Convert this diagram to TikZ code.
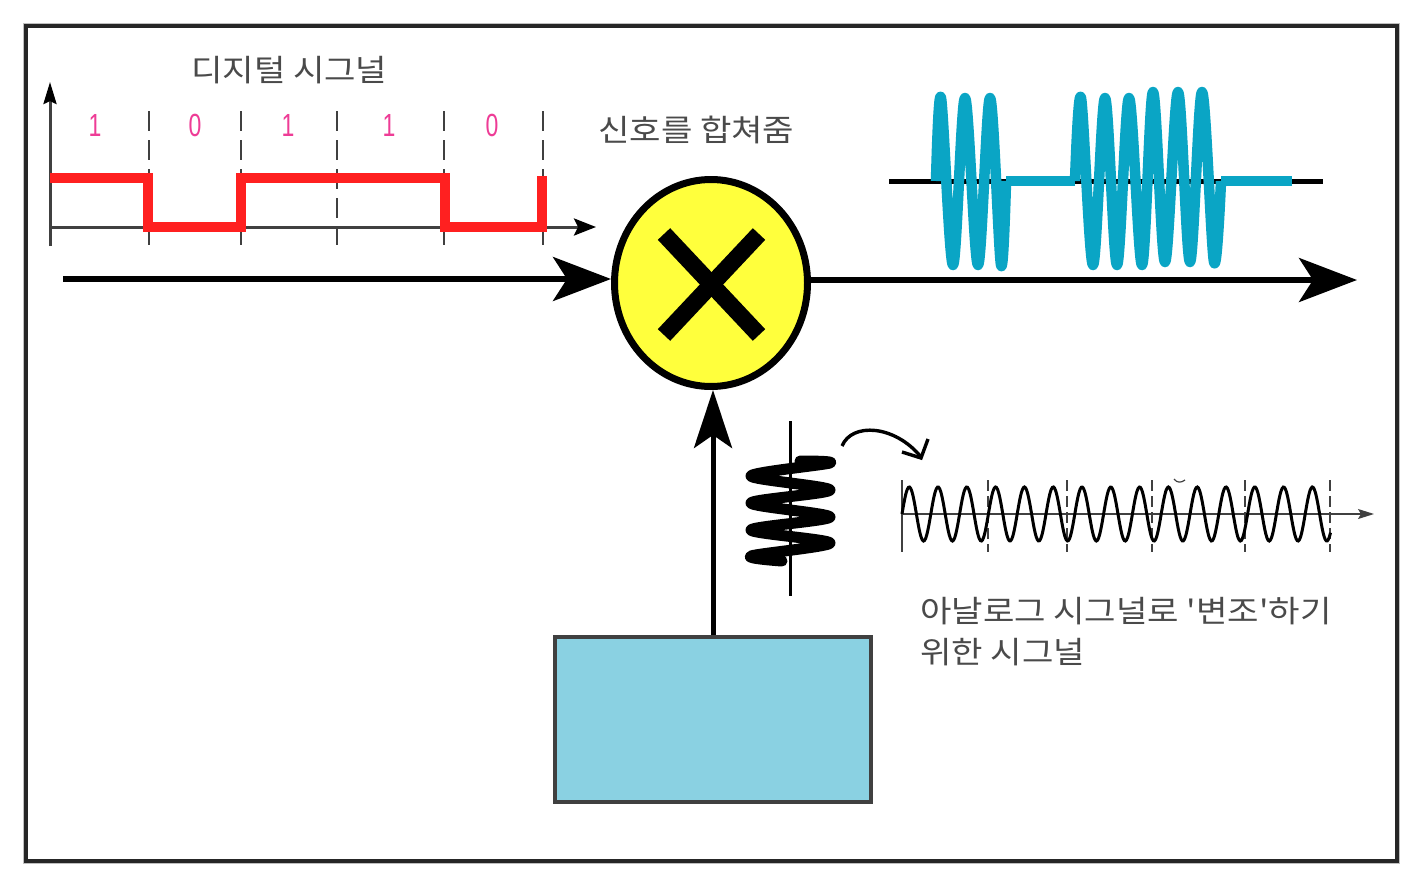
\documentclass[tikz,border=0pt]{standalone}
\usepackage{fontspec}
\usepackage{graphicx}
\usetikzlibrary{arrows.meta,shapes.geometric}
\newfontfamily\krfont[FakeStretch=1.12]{Noto Sans CJK KR}
\setmainfont{Liberation Sans}
\definecolor{teal1}{HTML}{0AA5C5}
\definecolor{boxblue}{HTML}{8AD1E2}
\definecolor{mulyellow}{HTML}{FFFF3C}
\definecolor{sigred}{HTML}{FF2020}
\definecolor{bitpink}{HTML}{EE3C96}
\definecolor{axisgrey}{HTML}{404040}
\definecolor{txtgrey}{HTML}{4A4A4A}
\tikzset{
  x=1pt,y=-1pt,
  label/.style={font=\krfont\fontsize{30.5}{30.5}\selectfont,text=txtgrey,inner sep=0pt,anchor=west},
  bit/.style={font=\fontsize{32}{32}\selectfont,text=bitpink,inner sep=0pt},
  bigarrow/.style={line width=5.5pt,-{Stealth[length=58pt,width=44pt,inset=14pt]}},
  thinaxis/.style={axisgrey,line width=3pt},
  tickdash/.style={axisgrey,line width=1.8pt,dash pattern=on 20pt off 9pt},
  carriertick/.style={axisgrey,line width=1.1pt,dash pattern=on 11pt off 5pt},
  burst/.style={teal1,line width=10.5pt,line join=round}
}
\begin{document}
\begin{tikzpicture}
\useasboundingbox (0,0) rectangle (1424,886);
\fill[white] (0,0) rectangle (1424,886);
\draw[black!25,line width=2pt] (24,24) rectangle (1399,863);
\draw[black!85,line width=3.4pt] (26,26) rectangle (1397,861);

% digital signal
\node[label] (ttl) at (191,70.5) {디지털 시그널};
\coordinate (yaxisS) at (50,246); \coordinate (yaxisE) at (50,82);
\coordinate (xaxisS) at (50,227); \coordinate (xaxisE) at (596,227);
\draw[thinaxis,-{Stealth[length=22pt,width=13pt,inset=3pt,color=black]}] (yaxisS) -- (yaxisE);
\draw[thinaxis,-{Stealth[length=22pt,width=17pt,inset=4pt,color=black]}] (xaxisS) -- (xaxisE);
\foreach \x in {149,241,337,444,543}
  \draw[tickdash] (\x,111) -- (\x,245);
\foreach \x/\t/\n in {95/1/a,195/0/b,288/1/c,389/1/d,492/0/e}
  \node[bit] (bit\n) at (\x,125) {\scalebox{0.72}[1]{\t}};
\draw[sigred,line width=10pt,line join=miter] (50,178) -- (148,178) -- (148,227) -- (241,227) -- (241,178) -- (445,178) -- (445,227) -- (542,227) -- (542,176);

% mixer
\node[draw=black,line width=7pt,fill=mulyellow,ellipse,minimum width=193pt,minimum height=207pt,inner sep=0pt] (mix) at (711,283) {};
\draw[black,line width=17pt] (664,234) -- (759,335);
\draw[black,line width=17pt] (759,234) -- (664,335);
\node[label] (mixl) at (598,129.5) {신호를 합쳐줌};

\coordinate (inS) at (63,279);
\coordinate (outE) at (1357,280);
\draw[bigarrow] (inS) -- (inS -| mix.west);
\draw[bigarrow] (outE -| mix.east) -- (outE);

% modulated output
\coordinate (outaxS) at (889,181); \coordinate (outaxE) at (1323,181);
\draw[black,line width=5pt] (outaxS) -- (outaxE);
\draw[burst] (1292,181) -- (1221,181);
\draw[burst] plot[smooth,tension=0.55] coordinates {(1221,181) (1214,262) (1202,92) (1190,262) (1178,92) (1165,262) (1153,92) (1142,265) (1129,98) (1117,265) (1105,98) (1093,265) (1081,98) (1075,181)};
\draw[burst] (1075,181) -- (1006,181);
\draw[burst] plot[smooth,tension=0.55] coordinates {(1006,181) (1001,265) (990,98) (978,265) (965,98) (953,265) (941,98) (936,181)};

% local oscillator
\node[draw=axisgrey,line width=4pt,fill=boxblue,minimum width=316pt,minimum height=165pt,inner sep=0pt] (osc) at (713,719.5) {};
\draw[bigarrow,line width=5pt,-{Stealth[length=58pt,width=38pt,inset=13pt]}] (osc.north) -- (mix.south -| osc.north);
\coordinate (spS) at (790,421); \coordinate (spE) at (790,596);
\draw[black,line width=3pt] (spS) -- (spE);
\draw[black,line width=11pt,line cap=round,line join=round] plot[smooth,tension=0.5] coordinates {(800,461) (830,463) (751,476) (830,490) (751,503) (830,517) (751,530) (830,543) (751,556) (782,561)};

\coordinate (curS) at (842,446); \coordinate (curE) at (921,457);
\draw[black,line width=3.4pt] (curS) .. controls (852,422) and (895,425) .. (curE);
\draw[black,line width=3.4pt,line join=miter] (902,452) -- (921,458) -- (928,439);

% carrier
\coordinate (carS) at (902,514); \coordinate (carE) at (1374,514);
\draw[axisgrey,line width=1.3pt,-{Stealth[length=16pt,width=10pt,inset=3pt]}] (carS) -- (carE);
\draw[axisgrey,line width=1.3pt] (902,480) -- (902,552);
\foreach \x in {988,1067,1152,1245,1330}
  \draw[carriertick] (\x,480) -- (\x,552);
\draw[black,line width=3pt,domain=0:428.5,samples=400,variable=\t,smooth] plot ({902+\t},{514-27*sin(\t*12.5)});
\draw[axisgrey,line width=1.2pt] (1174,479) .. controls (1177,483) and (1181,483) .. (1185,480);

\node[label] (l1) at (920,611.5) {아날로그 시그널로 '변조'하기};
\node[label] (l2) at (920,652) {위한 시그널};
\end{tikzpicture}
\end{document}
